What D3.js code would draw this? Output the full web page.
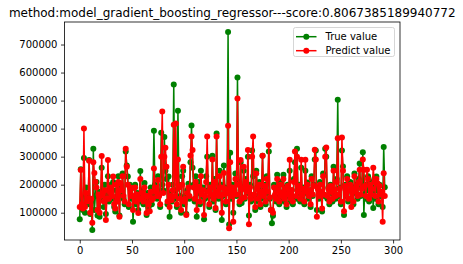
<!DOCTYPE html>
<html><head><meta charset="utf-8">
<script src="https://cdn.jsdelivr.net/npm/d3@7"></script>
<style>
html,body{margin:0;padding:0;background:#fff;}
svg{display:block;font-family:"DejaVu Sans",sans-serif;}
</style></head>
<body>
<svg id="chart" width="463" height="264"></svg>
<script>
const title = "method:model_gradient_boosting_regressor---score:0.8067385189940772";
const seriesNames = ["True value", "Predict value"];
const xTicks = [0, 50, 100, 150, 200, 250, 300];
const yTicks = [100000, 200000, 300000, 400000, 500000, 600000, 700000];

const trueValues = [
77000,255000,120000,110000,295000,100000,190000,150000,130000,288000,
95000,140000,38000,328000,110000,160000,210000,90000,175000,86000,
150000,260000,180000,120000,200000,95000,170000,230000,140000,190000,
200000,150000,210000,120000,104000,180000,160000,230000,90000,200000,
170000,240000,150000,130000,318000,268000,229000,120000,200000,150000,
188000,68000,150000,200000,130000,170000,110000,160000,249000,140000,
180000,130000,206000,150000,92000,170000,120000,140000,190000,130000,
160000,392000,200000,181000,150000,230000,170000,120000,385000,200000,
180000,370000,250000,220000,130000,229000,86000,170000,140000,200000,
557000,150000,180000,120000,464000,200000,160000,100000,230000,250000,
130000,160000,95000,180000,203000,150000,280000,411000,260000,200000,
140000,230000,86000,170000,210000,130000,250000,160000,190000,77000,
150000,230000,300000,180000,120000,200000,160000,303000,140000,220000,
110000,383000,180000,150000,250000,200000,74000,160000,268000,190000,
130000,170000,745000,58000,314000,150000,200000,100000,180000,240000,
160000,582000,210000,130000,280000,135000,190000,250000,150000,220000,
170000,300000,90000,200000,140000,322000,230000,160000,110000,250000,
190000,140000,210000,120000,180000,303000,150000,200000,130000,230000,
170000,318000,150000,110000,62000,89000,200000,160000,140000,235000,
180000,130000,210000,150000,170000,235000,140000,190000,120000,200000,
160000,250000,140000,180000,130000,220000,280000,150000,328000,170000,
200000,140000,260000,160000,190000,130000,250000,170000,208000,150000,
180000,120000,230000,160000,200000,290000,322000,110000,190000,150000,
210000,170000,104000,240000,160000,328000,300000,150000,190000,130000,
200000,170000,140000,264000,180000,150000,220000,503000,160000,190000,
130000,322000,265000,92000,200000,160000,230000,140000,180000,210000,
150000,190000,130000,240000,170000,200000,150000,220000,276000,160000,
190000,316000,92000,200000,150000,180000,230000,140000,210000,160000,
190000,117000,220000,150000,229000,180000,130000,200000,160000,170000,
120000,334000,191000];

const predictValues = [
120000,252000,130000,115000,400000,120000,170000,140000,150000,285000,
100000,150000,64000,280000,242000,210000,190000,110000,165000,100000,
160000,302000,170000,140000,180000,74000,150000,288000,150000,175000,
190000,160000,229000,130000,115000,200000,140000,210000,86000,205000,
180000,230000,160000,140000,328000,264000,200000,130000,190000,160000,
188000,110000,160000,190000,140000,165000,99000,150000,220000,150000,
170000,140000,190000,160000,99000,160000,130000,105000,175000,145000,
150000,258000,190000,175000,160000,217000,160000,130000,300000,461000,
170000,300000,332000,264000,140000,200000,120000,160000,145000,180000,
414000,160000,418000,130000,290000,190000,150000,110000,200000,264000,
140000,150000,92000,170000,190000,160000,304000,372000,324000,190000,
150000,210000,110000,180000,193000,140000,230000,165000,180000,92000,
160000,210000,372000,175000,130000,190000,165000,290000,150000,210000,
117000,372000,175000,160000,230000,190000,100000,165000,242000,185000,
140000,170000,410000,45000,280000,160000,190000,68000,175000,220000,
165000,507000,200000,140000,288000,150000,185000,264000,155000,210000,
175000,324000,59000,190000,150000,300000,372000,165000,120000,240000,
185000,150000,200000,130000,175000,303000,160000,195000,140000,220000,
175000,342000,155000,110000,110000,100000,190000,165000,150000,220000,
180000,140000,200000,160000,170000,220000,150000,185000,130000,195000,
165000,289000,150000,180000,140000,210000,318000,160000,300000,175000,
195000,150000,289000,165000,185000,140000,289000,175000,200000,160000,
180000,130000,220000,165000,195000,325000,290000,86000,185000,160000,
200000,175000,115000,230000,165000,300000,333000,160000,185000,140000,
195000,175000,150000,250000,180000,160000,210000,366000,165000,185000,
140000,368000,250000,105000,195000,165000,220000,150000,180000,200000,
120000,185000,140000,230000,175000,195000,160000,210000,253000,165000,
185000,290000,253000,195000,160000,253000,220000,150000,200000,165000,
185000,260000,210000,160000,220000,205000,140000,195000,165000,175000,
68000,241000,160000];

const colors = ["#008000", "#ff0000"];
const seriesData = [trueValues, predictValues];

const svg = d3.select("#chart");
const L = 64.5, R = 400, T = 22, B = 240;
const n = trueValues.length;
const allVals = trueValues.concat(predictValues);
const ymin = d3.min(allVals), ymax = d3.max(allVals);
const ypad = (ymax - ymin) * 0.05;
const xpad = (n - 1) * 0.05;
const x = d3.scaleLinear().domain([-xpad, n - 1 + xpad]).range([L, R]);
const y = d3.scaleLinear().domain([ymin - ypad, ymax + ypad]).range([B, T]);

const xAxis = d3.axisBottom(x).tickValues(xTicks).tickSize(3.5).tickPadding(3.5).tickFormat(d3.format("d"));
const yAxis = d3.axisLeft(y).tickValues(yTicks).tickSize(3.5).tickPadding(3.5).tickFormat(d3.format("d"));

const plot = svg.append("g");
const line = d3.line().x((d, i) => x(i)).y(d => y(d));
seriesData.forEach((vals, k) => {
  const g = plot.append("g");
  g.append("path").datum(vals).attr("d", line).attr("fill", "none")
    .attr("stroke", colors[k]).attr("stroke-width", 1.5).attr("stroke-linejoin", "round");
  g.selectAll("circle").data(vals).enter().append("circle")
    .attr("cx", (d, i) => x(i)).attr("cy", d => y(d)).attr("r", 3).attr("fill", colors[k]);
});

const gx = svg.append("g").attr("transform", `translate(0,${B})`).call(xAxis);
const gy = svg.append("g").attr("transform", `translate(${L},0)`).call(yAxis);
[gx, gy].forEach(g => {
  g.select(".domain").remove();
  g.selectAll("text").attr("font-size", 10).attr("fill", "#000").attr("font-family", "DejaVu Sans");
  g.selectAll("line").attr("stroke", "#000").attr("stroke-width", 0.8);
});
svg.append("rect").attr("x", L).attr("y", T).attr("width", R - L).attr("height", B - T)
  .attr("fill", "none").attr("stroke", "#000").attr("stroke-width", 0.8);

svg.append("text").attr("x", (L + R) / 2).attr("y", 17).attr("text-anchor", "middle")
  .attr("font-size", 12).attr("fill", "#000").text(title);

const lg = svg.append("g");
lg.append("rect").attr("x", 293.5).attr("y", 27.5).attr("width", 101).attr("height", 29).attr("rx", 2)
  .attr("fill", "#fff").attr("fill-opacity", 0.8).attr("stroke", "#cccccc").attr("stroke-width", 0.8);
seriesNames.forEach((name, k) => {
  const yy = 36.7 + k * 14;
  lg.append("line").attr("x1", 296).attr("x2", 316.5).attr("y1", yy).attr("y2", yy)
    .attr("stroke", colors[k]).attr("stroke-width", 1.5);
  lg.append("circle").attr("cx", 306.3).attr("cy", yy).attr("r", 3).attr("fill", colors[k]);
  lg.append("text").attr("x", 325.5).attr("y", yy + 3.6).attr("font-size", 10).attr("fill", "#000").text(name);
});
</script>
</body></html>
